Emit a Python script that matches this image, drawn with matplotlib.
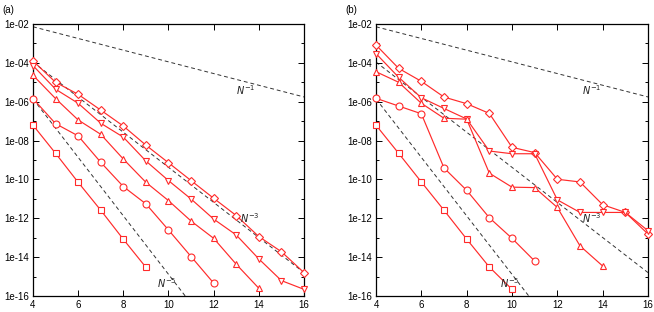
import matplotlib
matplotlib.use("Agg")
import matplotlib.pyplot as plt
import numpy as np

plt.rcParams['font.family'] = ['Liberation Sans', 'DejaVu Sans']

# x = log2(N)
x_a_diamond = [4, 5, 6, 7, 8, 9, 10, 11, 12, 13, 14, 15, 16]
a_diamond = [1.26e-4, 1.0e-5, 2.4e-6, 3.7e-7, 5.6e-8, 5.8e-9, 7.2e-10, 8.7e-11,
             1.07e-11, 1.38e-12, 1.15e-13, 1.9e-14, 1.6e-15]
x_a_invtri = [4, 5, 6, 7, 8, 9, 10, 11, 12, 13, 14, 15, 16]
a_invtri = [7.2e-5, 4.4e-6, 8.3e-7, 7.8e-8, 1.5e-8, 8.9e-10, 8.7e-11, 9.8e-12,
            9.1e-13, 1.38e-13, 8.1e-15, 6.2e-16, 2.2e-16]
x_a_tri = [4, 5, 6, 7, 8, 9, 10, 11, 12, 13, 14]
a_tri = [2.3e-5, 1.45e-6, 1.15e-7, 2.1e-8, 1.12e-9, 7.1e-11, 8.1e-12, 7.2e-13,
         9.3e-14, 4.3e-15, 2.5e-16]
x_a_circle = [4, 5, 6, 7, 8, 9, 10, 11, 12]
a_circle = [1.45e-6, 7.4e-8, 1.74e-8, 7.6e-10, 4.3e-11, 5.5e-12, 2.5e-13, 1.07e-14, 4.6e-16]
x_a_square = [4, 5, 6, 7, 8, 9]
a_square = [6.2e-8, 2.2e-9, 7.1e-11, 2.6e-12, 8.3e-14, 3.0e-15]

x_b_diamond = [4, 5, 6, 7, 8, 9, 10, 11, 12, 13, 14, 15, 16]
b_diamond = [8.3e-4, 5.2e-5, 1.12e-5, 1.74e-6, 7.9e-7, 2.5e-7, 4.5e-9, 2.4e-9,
             1.02e-10, 7.4e-11, 5.0e-12, 2.0e-12, 1.55e-13]
x_b_invtri = [4, 5, 6, 7, 8, 9, 10, 11, 12, 13, 14, 15, 16]
b_invtri = [3.0e-4, 1.8e-5, 1.6e-6, 4.5e-7, 1.29e-7, 2.9e-9, 2.1e-9, 2.1e-9,
            8.9e-12, 2.0e-12, 2.0e-12, 2.0e-12, 2.3e-13]
x_b_tri = [4, 5, 6, 7, 8, 9, 10, 11, 12, 13, 14]
b_tri = [3.5e-5, 1.0e-5, 8.3e-7, 1.41e-7, 1.26e-7, 2.1e-10, 4.0e-11, 3.8e-11,
         3.6e-12, 3.8e-14, 3.5e-15]
x_b_circle = [4, 5, 6, 7, 8, 9, 10, 11]
b_circle = [1.5e-6, 6.0e-7, 2.4e-7, 3.9e-10, 2.75e-11, 1.07e-12, 9.3e-14, 6.3e-15]
x_b_square = [4, 5, 6, 7, 8, 9, 10]
b_square = [6.2e-8, 2.2e-9, 7.4e-11, 2.6e-12, 8.5e-14, 3.1e-15, 2.2e-16]

# reference slopes: C * N^-k with N = 2^x, anchored at x = 4
ref_orders = [1, 3, 5]
ref_anchor = [7.2e-3, 1.1e-4, 1.4e-6]
ref_labels = ['$N^{-1}$', '$N^{-3}$', '$N^{-5}$']
ref_label_pos_a = [(13.4, 4.0e-6), (13.6, 1.07e-12), (9.92, 4.6e-16)]
ref_label_pos_b = [(13.5, 4.0e-6), (13.5, 1.0e-12), (9.92, 4.6e-16)]

xticks = [4, 6, 8, 10, 12, 14, 16]
ymajor = [1e-2, 1e-4, 1e-6, 1e-8, 1e-10, 1e-12, 1e-14, 1e-16]
ymajor_labels = ['1e-02', '1e-04', '1e-06', '1e-08', '1e-10', '1e-12', '1e-14', '1e-16']
yminor = [1e-3, 1e-5, 1e-7, 1e-9, 1e-11, 1e-13, 1e-15]

fig = plt.figure(figsize=(6.54, 3.12), dpi=100)
axA = fig.add_axes([33/654, 1-296/312, (304-33)/654, 272/312])
axB = fig.add_axes([376/654, 1-296/312, (648-376)/654, 272/312])

series_a = [(x_a_diamond, a_diamond, 'D'), (x_a_invtri, a_invtri, 'v'),
            (x_a_tri, a_tri, '^'), (x_a_circle, a_circle, 'o'), (x_a_square, a_square, 's')]
series_b = [(x_b_diamond, b_diamond, 'D'), (x_b_invtri, b_invtri, 'v'),
            (x_b_tri, b_tri, '^'), (x_b_circle, b_circle, 'o'), (x_b_square, b_square, 's')]

msize = {'D': 4.0, 'v': 5.0, '^': 5.0, 'o': 5.0, 's': 5.0}

for ax, series, lpos, tag in [(axA, series_a, ref_label_pos_a, '(a)'),
                              (axB, series_b, ref_label_pos_b, '(b)')]:
    ax.set_yscale('log')
    xr = np.linspace(4, 16, 200)
    for k, c, lab, pos in zip(ref_orders, ref_anchor, ref_labels, lpos):
        yr = c * 2.0 ** (-k * (xr - 4))
        ln, = ax.plot(xr, yr, color='#333333', lw=0.7, zorder=1)
        ln.set_dashes((4, 3))
        ax.text(pos[0], pos[1], lab, fontsize=7, style='italic', ha='center',
                va='center', color='#222222', zorder=4)
    for xs, ys, m in series:
        ax.plot(xs, ys, color='#ff2a2a', lw=0.85, marker=m, ms=msize[m],
                mfc='white', mec='#ff2a2a', mew=0.8, zorder=3, clip_on=False)
    ax.set_xlim(4, 16)
    ax.set_ylim(1e-16, 1e-2)
    ax.set_xticks(xticks)
    ax.set_xticklabels([str(t) for t in xticks])
    ax.set_yticks(ymajor)
    ax.set_yticklabels(ymajor_labels)
    ax.set_yticks(yminor, minor=True)
    ax.set_yticklabels([], minor=True)
    ax.tick_params(which='both', direction='in', top=True, right=True,
                   labelsize=7, width=0.7, pad=3)
    ax.tick_params(which='major', length=4)
    ax.tick_params(which='minor', length=2.5)
    ax.tick_params(axis='x', which='minor', bottom=False, top=False)
    for s in ax.spines.values():
        s.set_linewidth(0.9)

fig.text(2/654, 1-10/312, '(a)', fontsize=7, ha='left', va='center')
fig.text(345/654, 1-10/312, '(b)', fontsize=7, ha='left', va='center')

fig.savefig('out.png', dpi=100)
